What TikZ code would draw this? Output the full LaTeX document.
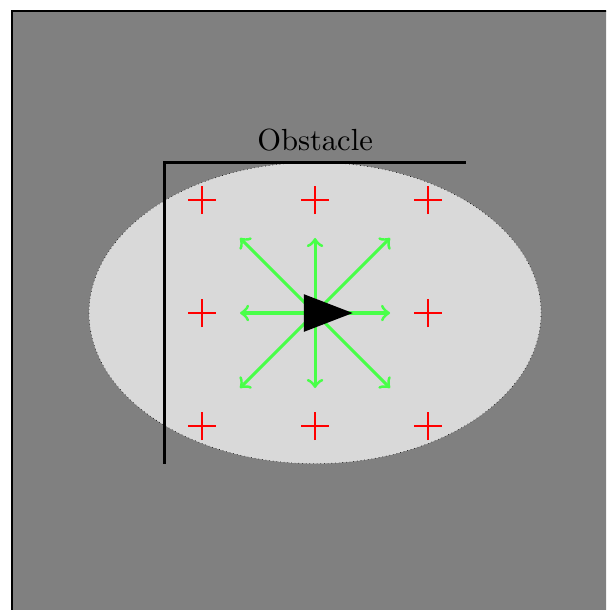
\documentclass[tikz,border=0pt]{standalone}
\usetikzlibrary{arrows}

\definecolor{motiongreen}{RGB}{72,255,72}

\begin{document}
\begin{tikzpicture}[x=1.3cm, y=1.3cm,
    samplecross/.style={red, thick},
    motion/.style={motiongreen, line width=1pt, ->, >=to}]

    % 页面大小
    \useasboundingbox (-2.788,-2.628) rectangle (2.575,2.770);
    \clip (-2.788,-2.628) rectangle (2.575,2.770);

    % 背景
    \draw[thin, fill=gray] (-2.681,2.673) rectangle (4,-4);

    % 椭圆区域
    \draw[very thin, densely dotted, fill=gray!30] (0,0) ellipse (2 and 1.333);

    % 障碍物
    \draw[line width=1.2pt] (-1.333,-1.333) -- (-1.333,1.333) -- (1.333,1.333);
    \node[above] (obstacle) at (0,1.333) {Obstacle};

    % 采样点
    \foreach \x/\y in {-1/1,0/1,1/1,-1/0,1/0,-1/-1,0/-1,1/-1}
      \draw[samplecross] (\x-0.124,\y) -- (\x+0.124,\y) (\x,\y-0.124) -- (\x,\y+0.124);

    % 运动方向
    \foreach \x/\y in {1/0,1/1,0/1,-1/1,-1/0,-1/-1,0/-1,1/-1}
      \draw[motion] (0,0) -- (0.664*\x,0.664*\y);

    % 机器人
    \fill[black] (-0.1,0.167) -- (0.333,0) -- (-0.1,-0.167) -- cycle;

  \end{tikzpicture}
\end{document}
